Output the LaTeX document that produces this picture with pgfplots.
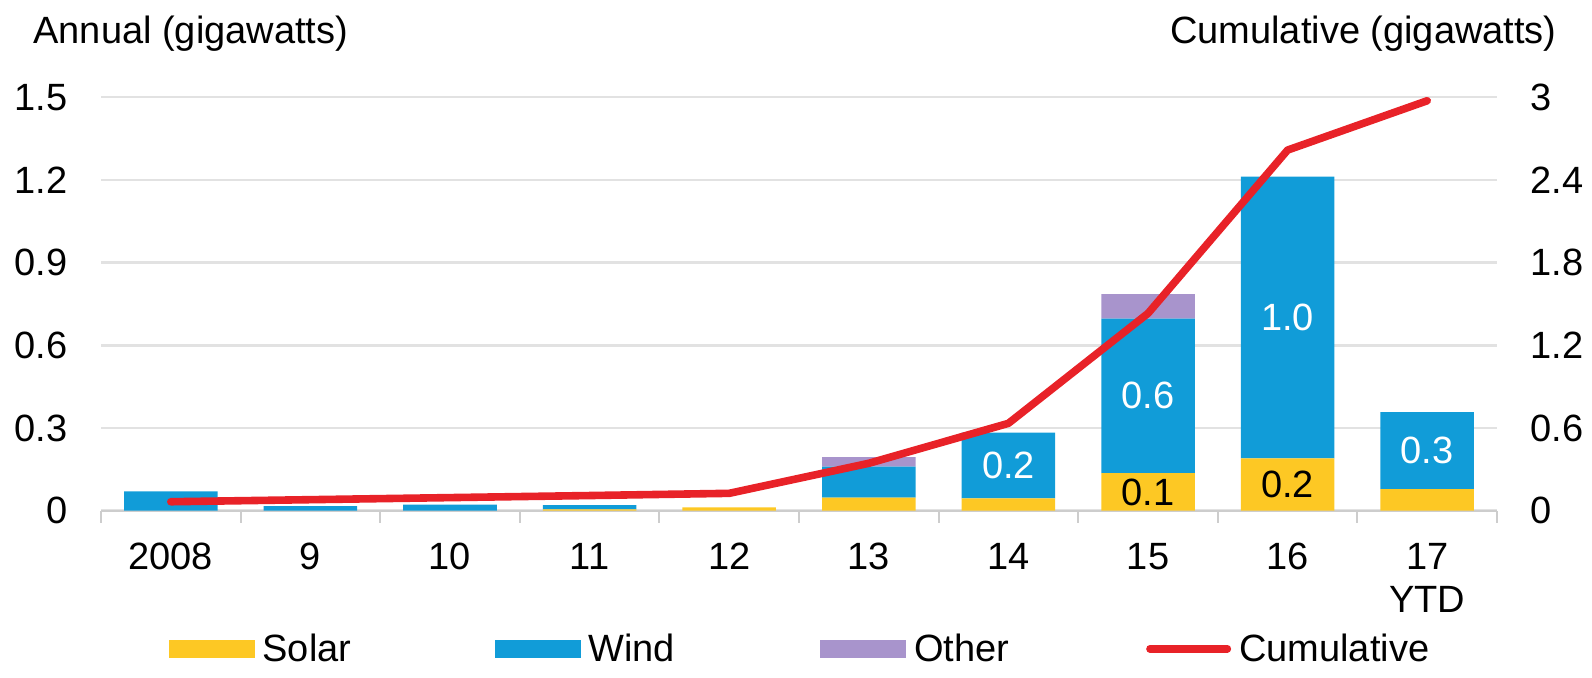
\documentclass[border=0pt]{standalone}
\usepackage{pgfplots}
\pgfplotsset{compat=1.18}
\usepackage{fontspec}
\setmainfont{Liberation Sans}

\definecolor{solar}{RGB}{253,200,36}
\definecolor{wind}{RGB}{17,156,216}
\definecolor{other}{RGB}{168,148,204}
\definecolor{cumul}{RGB}{232,34,40}
\definecolor{gridgray}{RGB}{226,226,226}
\definecolor{basegray}{RGB}{205,205,205}

\newcommand\chartfont{\fontsize{19}{21.5}\selectfont}

\pgfplotsset{
  frame/.style={
    scale only axis, width=698pt, height=206.7pt,
    xmin=-0.5, xmax=9.5, ymin=0, clip=false,
    major tick length=0pt,
  },
  % segment labels, centred in their stacked bar piece
  seglabel/.style={
    point meta=explicit symbolic,
    nodes near coords,
    every node near coord/.append style={
      font=\chartfont, text=#1, anchor=center, inner sep=0pt},
  },
}

\begin{document}
\begin{tikzpicture}
% annual additions by source (gigawatts)
\begin{axis}[frame, name=main, ymax=1.5,
  ybar stacked, bar width=0.67,
  axis x line*=bottom, axis y line*=left,
  y axis line style={draw=none},
  x axis line style={-, basegray, line width=1pt},
  xtick={0,...,9},
  xticklabels={2008,9,10,11,12,13,14,15,16,{17\\YTD}},
  xticklabel style={align=center, anchor=north, inner sep=0pt,
    yshift=-16pt, font=\chartfont},
  major x tick style={draw=none},
  minor xtick={-0.5,0.5,...,9.5},
  minor x tick style={basegray, line width=1pt},
  tick align=outside, minor tick length=6pt,
  ytick={0,0.3,0.6,0.9,1.2,1.5},
  yticklabels={0,0.3,0.6,0.9,1.2,1.5},
  ytick style={draw=none},
  yticklabel style={anchor=east, inner sep=0pt, xshift=-16.5pt,
    font=\chartfont},
  ymajorgrids, grid style={gridgray, line width=1.2pt},
]
\addplot[fill=solar, draw=none, seglabel=black] coordinates {
  (0,0) [] (1,0) [] (2,0) [] (3,0.005) [] (4,0.012) []
  (5,0.047) [] (6,0.045) [] (7,0.136) [0.1] (8,0.19) [0.2] (9,0.078) []};
\addplot[fill=wind, draw=none, seglabel=white] coordinates {
  (0,0.07) [] (1,0.017) [] (2,0.022) [] (3,0.015) [] (4,0) []
  (5,0.113) [] (6,0.238) [0.2] (7,0.561) [0.6] (8,1.022) [1.0] (9,0.28) [0.3]};
\addplot[fill=other, draw=none] coordinates {
  (0,0) (1,0) (2,0) (3,0) (4,0)
  (5,0.034) (6,0) (7,0.089) (8,0) (9,0)};
\end{axis}

% cumulative capacity (gigawatts)
\begin{axis}[frame, ymax=3,
  axis x line=none, axis y line*=right,
  y axis line style={draw=none},
  ytick={0,0.6,1.2,1.8,2.4,3},
  yticklabels={0,0.6,1.2,1.8,2.4,3},
  ytick style={draw=none},
  yticklabel style={anchor=west, inner sep=0pt, xshift=16.5pt,
    font=\chartfont},
  legend columns=4,
  legend style={at={(0.5,-0.334)}, anchor=center, draw=none, fill=none,
    font=\chartfont, inner sep=0pt, column sep=4pt,
    nodes={inner sep=0pt}},
  legend cell align=left,
]
\addlegendimage{legend image code/.code={
  \fill[solar] (0pt,-4.25pt) rectangle (42.5pt,4.25pt);}}
\addlegendentry{\makebox[112pt][l]{Solar}}
\addlegendimage{legend image code/.code={
  \fill[wind] (0pt,-4.25pt) rectangle (42.5pt,4.25pt);}}
\addlegendentry{\makebox[112pt][l]{Wind}}
\addlegendimage{legend image code/.code={
  \fill[other] (0pt,-4.25pt) rectangle (42.5pt,4.25pt);}}
\addlegendentry{\makebox[112pt][l]{Other}}
\addplot[cumul, line width=3.8pt, line join=round, line cap=round,
  legend image code/.code={
    \draw[cumul, line width=3.8pt, line cap=round] (1.9pt,0pt) -- (40.6pt,0pt);}]
  coordinates {
  (0,0.065) (1,0.08) (2,0.095) (3,0.11) (4,0.126)
  (5,0.344) (6,0.634) (7,1.432) (8,2.617) (9,2.975)};
\addlegendentry{Cumulative}
\end{axis}

\node[anchor=base west, font=\chartfont, inner sep=0pt]
  at ([xshift=-34pt,yshift=26.65pt]main.north west) {Annual (gigawatts)};
\node[anchor=base east, font=\chartfont, inner sep=0pt]
  at ([xshift=30pt,yshift=26.65pt]main.north east) {Cumulative (gigawatts)};

\path ([xshift=-50.5pt,yshift=48.65pt]main.north west)
  rectangle ([xshift=47.5pt,yshift=-83.65pt]main.south east);
\end{tikzpicture}
\end{document}
